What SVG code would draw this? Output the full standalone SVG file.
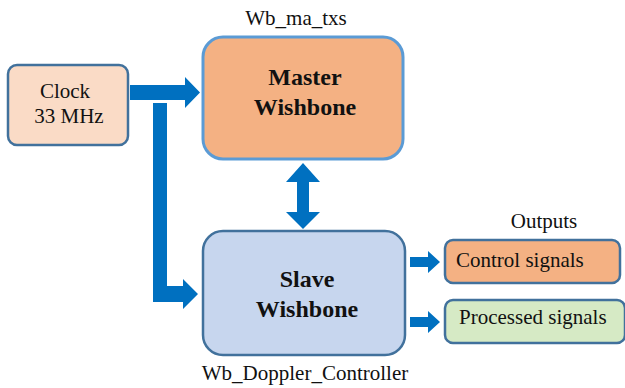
<svg xmlns="http://www.w3.org/2000/svg" width="625" height="388" viewBox="0 0 625 388">
  <defs>
    <style>
      .arrow { fill: #0070C0; }
    </style>
  </defs>
  <rect width="625" height="388" fill="#ffffff"/>

  <!-- connectors -->
  <g id="connectors">
    <!-- clock to master -->
    <polygon class="arrow" points="130,85 185,85 185,77 200,92.5 185,108 185,100 130,100"/>
    <!-- clock to slave (elbow) -->
    <polygon class="arrow" points="153,103 167,103 167,286 183,286 183,279 198,294 183,309 183,302 153,302"/>
    <!-- master <-> slave -->
    <polygon class="arrow" points="303,163 320,182 309,182 309,212 320,212 303,229 286,212 297,212 297,182 286,182"/>
    <!-- slave to outputs -->
    <polygon class="arrow" points="410,257 428,257 428,251 440,262 428,273 428,267 410,267"/>
    <polygon class="arrow" points="410,317 428,317 428,311 440,322 428,333 428,327 410,327"/>
  </g>

  <g font-family="Liberation Serif, DejaVu Serif, serif" fill="#111">
    <g id="clock" font-size="21">
      <rect x="8" y="65" width="120" height="80" rx="9" fill="#FADBC6" stroke="#41719C" stroke-width="2.5"/>
      <text x="65" y="98" text-anchor="middle">Clock</text>
      <text x="69" y="123" text-anchor="middle">33 MHz</text>
    </g>

    <g id="master">
      <text x="296" y="25" text-anchor="middle" font-size="21">Wb_ma_txs</text>
      <rect x="203" y="37" width="200" height="122" rx="20" fill="#F4B183" stroke="#5B9BD5" stroke-width="3"/>
      <text x="305" y="85" text-anchor="middle" font-size="24" font-weight="bold">Master</text>
      <text x="305" y="115" text-anchor="middle" font-size="24" font-weight="bold">Wishbone</text>
    </g>

    <g id="slave">
      <rect x="203" y="231" width="202" height="124" rx="20" fill="#C7D6EE" stroke="#41719C" stroke-width="2.5"/>
      <text x="307" y="287" text-anchor="middle" font-size="24" font-weight="bold">Slave</text>
      <text x="307" y="317" text-anchor="middle" font-size="24" font-weight="bold">Wishbone</text>
      <text x="305" y="380" text-anchor="middle" font-size="21">Wb_Doppler_Controller</text>
    </g>

    <g id="outputs">
      <text x="544" y="228" text-anchor="middle" font-size="21">Outputs</text>
    </g>

    <g id="control">
      <rect x="445" y="240" width="175" height="43" rx="8" fill="#F4B183" stroke="#41719C" stroke-width="2.5"/>
      <text x="456" y="267" font-size="21">Control signals</text>
    </g>

    <g id="processed">
      <rect x="445" y="300" width="180" height="43" rx="8" fill="#D6EAC5" stroke="#41719C" stroke-width="2.5"/>
      <text x="459" y="324" font-size="21">Processed signals</text>
    </g>
  </g>
</svg>
